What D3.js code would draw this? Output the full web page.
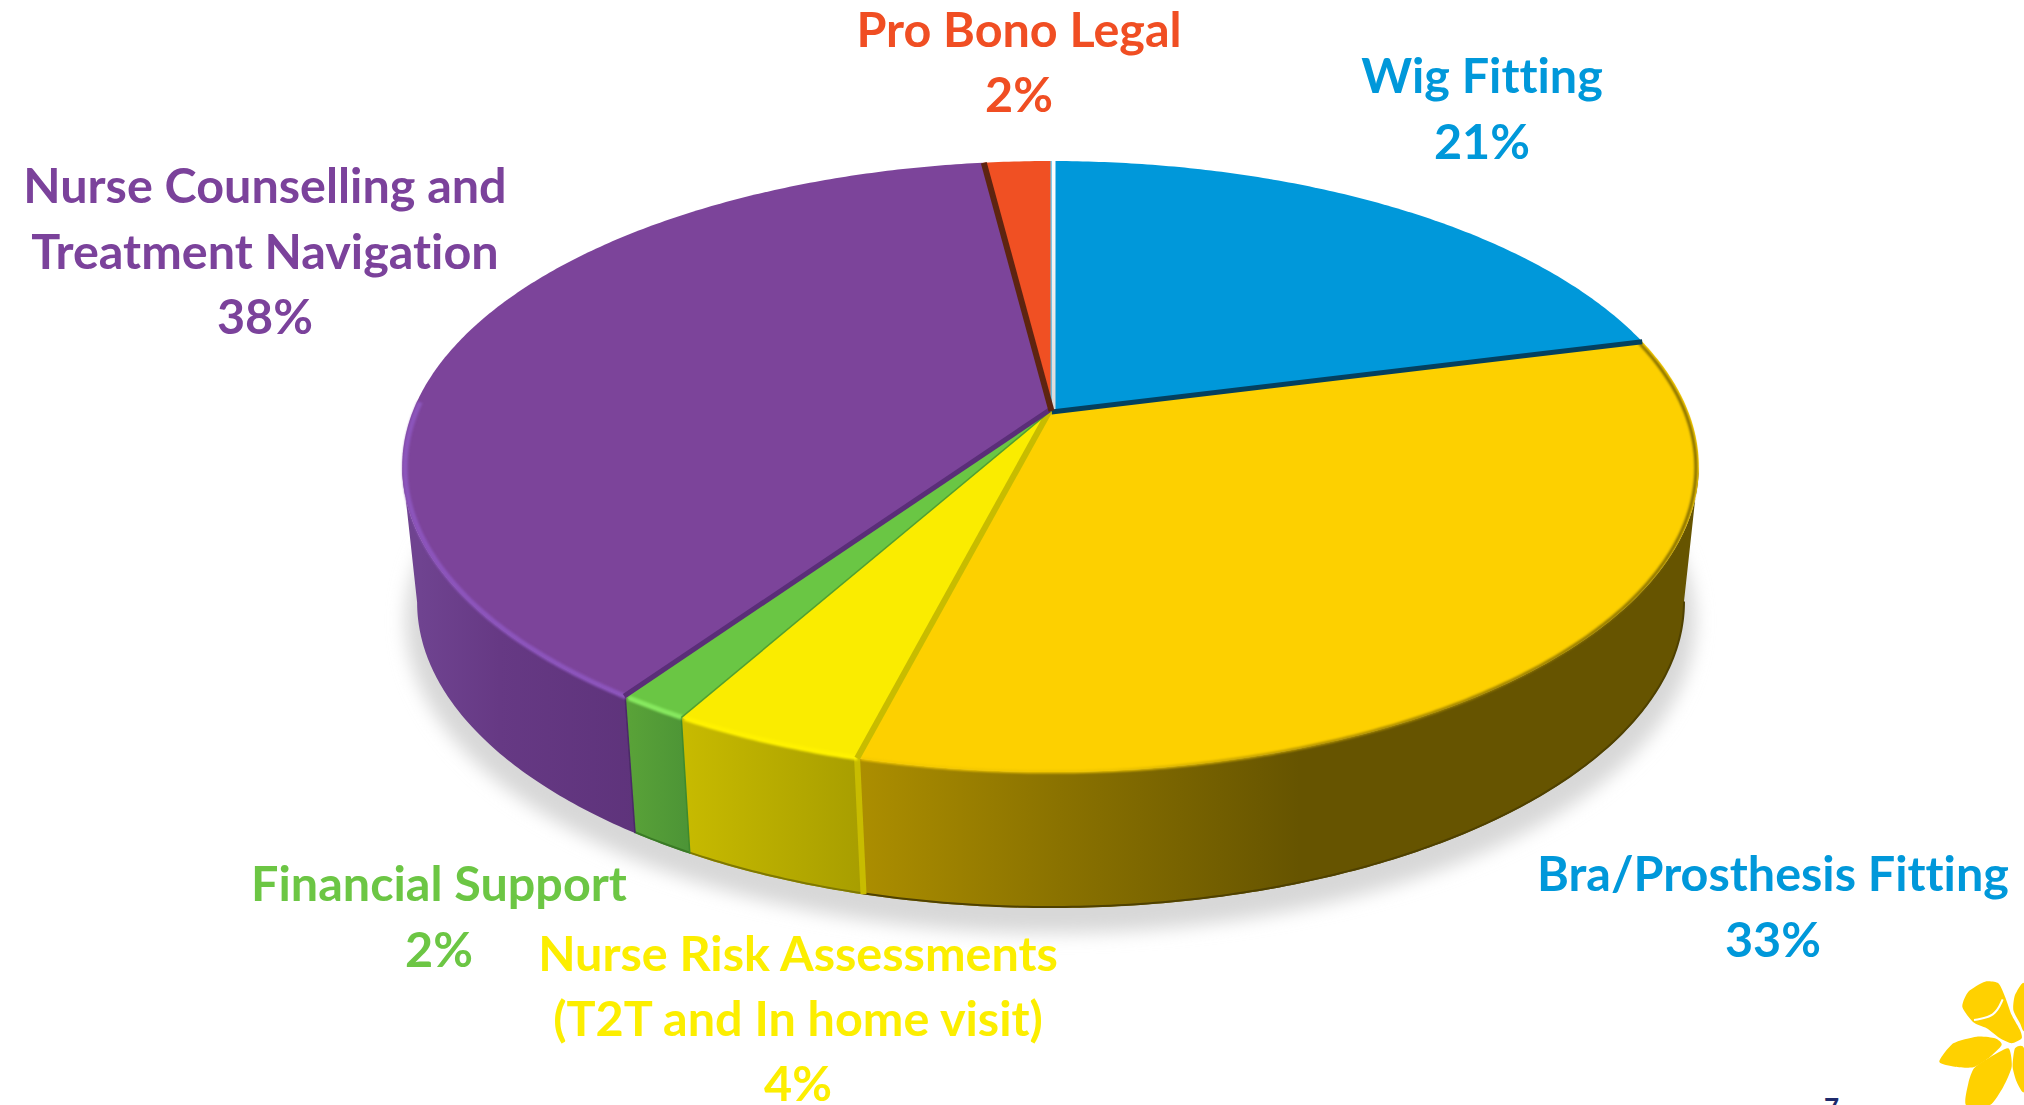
<!DOCTYPE html>
<html><head><meta charset="utf-8">
<script src="https://cdn.jsdelivr.net/npm/d3@7/dist/d3.min.js"></script>
<style>html,body{margin:0;padding:0;background:#fff;overflow:hidden}svg{display:block}text{font-family:Lato,"Open Sans",sans-serif;font-weight:700;font-variant-ligatures:none}</style>
</head><body><svg id="c" width="2024" height="1105" viewBox="0 0 2024 1105"></svg>
<script>
// ---- data ----
const categories = ["Wig Fitting","Bra/Prosthesis Fitting","Nurse Risk Assessments","Financial Support","Nurse Counselling and Treatment Navigation","Pro Bono Legal"];
const values = [21,33,4.1,1.5,38.4,2];
const labelLines = [["Wig Fitting"],["Bra/Prosthesis Fitting"],["Nurse Risk Assessments","(T2T and In home visit)"],["Financial Support"],["Nurse Counselling and","Treatment Navigation"],["Pro Bono Legal"]];
// ---- style ----
const faceColors = ["#0098DA","#FDD000","#FAEC00","#6AC644","#7C449A","#F05023"];
const textColors = ["#0098DA","#0098DA","#FCEE00","#6CC644","#7B429B","#F04E23"];
const wallStops = [null,[[860,"#AC8E00"],[1060,"#8A7200"],[1300,"#665400"]],[[680,"#C8BB00"],[860,"#A89E00"]],[[630,"#59A238"],[690,"#4C9436"]],[[420,"#6F4390"],[500,"#663984"],[640,"#5E337B"]],null];
const bottomEdge = [null,"#4F4100","#7F7800","#3A7A26",null,null];
const seamStyles = [{c:"url(#greySeam)",w:4,dx:3,dy:0},{c:"#04405F",w:5,dx:1,dy:1},{c:"#C8BC00",w:6,dx:-1,dy:0},{c:"#52A02F",w:1.5,dx:0,dy:0},{c:"#5A2E78",w:5,dx:-1,dy:-1},{c:"#5E2410",w:6,dx:1,dy:0}];
const rimStyles = [null,null,"#FFF200","#86E85E","#8C54BC",null];
const labelPos = [[1482,74,65.5],[1773,872,65.5],[798,952,65],[439,882,65.5],[265,184,65.5],[1019,28,65]];
const FS = 48.5;

const cx=1050.5,y0=411,A=637.5,B=295.4,k=0.1817,depth=136,shrink=0.023;
const sel=d3.select("#c");
const defs=sel.append("defs");
defs.append("filter").attr("id","shadowBlur").attr("x","-10%").attr("y","-10%").attr("width","120%").attr("height","130%").append("feGaussianBlur").attr("stdDeviation",9);
defs.append("filter").attr("id","rimBlur").attr("filterUnits","userSpaceOnUse").attr("x",0).attr("y",0).attr("width",2024).attr("height",1105).append("feGaussianBlur").attr("stdDeviation",1.3);
const greySeam=defs.append("linearGradient").attr("id","greySeam").attr("gradientUnits","userSpaceOnUse").attr("x1",0).attr("x2",0).attr("y1",160).attr("y2",412);
[[0,"#FFFFFF"],[0.4,"#F4F4F4"],[1,"#D8D8D8"]].forEach(s=>greySeam.append("stop").attr("offset",s[0]).attr("stop-color",s[1]));

function pt(theta,r,z){
  const u=r*Math.sin(theta),v=r*Math.cos(theta),w=1+k*v;
  return [cx+A*(1-shrink*z)*u/w, y0+depth*z-B*v/w];
}
const line=d3.line();
const arcs=d3.pie().sort(null).startAngle(0).endAngle(2*Math.PI)(values);
const steps=(a,b)=>{const n=Math.max(2,Math.ceil((b-a)/0.01));return d3.range(n+1).map(i=>a+(b-a)*i/n);};
const thetaR=Math.acos(-k),thetaL=2*Math.PI-thetaR;

// shadow
sel.append("path").attr("d",line(steps(0,2*Math.PI).map(t=>pt(t,1.02,1.12)))+"Z").attr("fill","#d8d8d8").attr("filter","url(#shadowBlur)");

// walls
arcs.forEach((d,i)=>{
  const a=Math.max(d.startAngle,thetaR),b=Math.min(d.endAngle,thetaL);
  if(a>=b||!wallStops[i])return;
  const st=wallStops[i],x0=st[0][0],x1=st[st.length-1][0];
  const g=defs.append("linearGradient").attr("id","wall"+i).attr("gradientUnits","userSpaceOnUse").attr("x1",x0).attr("x2",x1).attr("y1",0).attr("y2",0);
  st.forEach(s=>g.append("stop").attr("offset",(s[0]-x0)/(x1-x0)).attr("stop-color",s[1]));
  const ts=steps(a,b);
  const poly=ts.map(t=>pt(t,1,0)).concat(ts.slice().reverse().map(t=>pt(t,1,1)));
  sel.append("path").attr("d",line(poly)+"Z").attr("fill",`url(#wall${i})`);
  if(bottomEdge[i])sel.append("path").attr("d",line(ts.map(t=>pt(t,1,0.993)))).attr("fill","none").attr("stroke",bottomEdge[i]).attr("stroke-width",2);
});

// stripe on the wall between the Bra and Risk slices, and thin seams
{const t=arcs[1].endAngle,p0=pt(t,1,0),p1=pt(t,1,1);
 sel.append("path").attr("d",line([[p0[0]-1,p0[1]],[p1[0]+1,p1[1]]])).attr("stroke","#C8BC00").attr("stroke-width",6);}
[2,3].forEach(i=>{const t=arcs[i].endAngle;
 sel.append("path").attr("d",line([pt(t,1,0),pt(t,1,1)])).attr("stroke",i==2?"#3F8A2C":"#4A2A66").attr("stroke-width",1.5);});

// faces
arcs.forEach((d,i)=>{
  const poly=[pt(0,0,0)].concat(steps(d.startAngle,d.endAngle).map(t=>pt(t,1,0)));
  sel.append("path").attr("d",line(poly)+"Z").attr("fill",faceColors[i]);
});

// rim highlights
const goldRim=defs.append("linearGradient").attr("id","goldRim").attr("gradientUnits","userSpaceOnUse").attr("x1",860).attr("x2",1700).attr("y1",0).attr("y2",0);
[[0,"#F6CA00"],[0.3,"#EEC400"],[0.55,"#B09000"],[1,"#806A00"]].forEach(s=>goldRim.append("stop").attr("offset",s[0]).attr("stop-color",s[1]));
arcs.forEach((d,i)=>{
  let a=d.startAngle,b=d.endAngle,stroke=rimStyles[i];
  if(i===1)stroke="url(#goldRim)";
  if(!stroke)return;
  if(i===4)b=Math.min(b,4.75);
  sel.append("path").attr("d",line(steps(a+0.002,b-0.002).map(t=>pt(t,0.996,0.012)))).attr("fill","none").attr("stroke",stroke).attr("stroke-width",i===1?3:5).attr("filter","url(#rimBlur)");
});

// seams between slices
arcs.map(d=>d.startAngle).forEach((t,i)=>{
  const s=seamStyles[i],p0=pt(t,0,0),p1=pt(t,1,0);
  sel.append("path").attr("d",line([[p0[0]+s.dx,p0[1]+s.dy],[p1[0]+s.dx,p1[1]+s.dy]])).attr("stroke",s.c).attr("stroke-width",s.w);
});

// labels
categories.forEach((c,i)=>{
  const [x,y,lh]=labelPos[i];
  const lines=labelLines[i].concat(Math.round(values[i])+"%");
  const t=sel.append("text").attr("text-anchor","middle").attr("fill",textColors[i]).attr("font-size",FS);
  lines.forEach((l,j)=>t.append("tspan").attr("x",x).attr("y",y+j*lh).attr("dominant-baseline","central").text(l));
});

// page number and logo
sel.append("text").attr("x",1824).attr("y",1117).attr("fill","#1F2A6B").attr("font-size",26).text("7");
const Z=(x,y)=>[1900+x/3,960+y/3];
const logo=[
 [[187,140],[205,95],[255,65],[295,70],[315,110],[335,165],[360,210],[365,235],[335,250],[300,235],[260,205],[220,187]],
 [[340,150],[345,105],[372,70],[372,210],[360,190]],
 [[118,305],[160,250],[230,230],[285,235],[305,255],[265,295],[220,322],[165,320]],
 [[198,435],[205,370],[222,325],[265,295],[325,265],[335,320],[310,380],[270,435]],
 [[345,265],[338,320],[350,365],[372,395],[372,265]]
];
const closed=d3.line().curve(d3.curveCardinalClosed.tension(0.35));
logo.forEach(p=>sel.append("path").attr("d",closed(p.map(q=>Z(q[0],q[1])))).attr("fill","#FFD100"));
sel.append("path").attr("d",d3.line().curve(d3.curveBasis)([[222,180],[285,170],[308,118]].map(q=>Z(q[0],q[1])))).attr("fill","none").attr("stroke","#fff").attr("stroke-width",2);
</script></body></html>
